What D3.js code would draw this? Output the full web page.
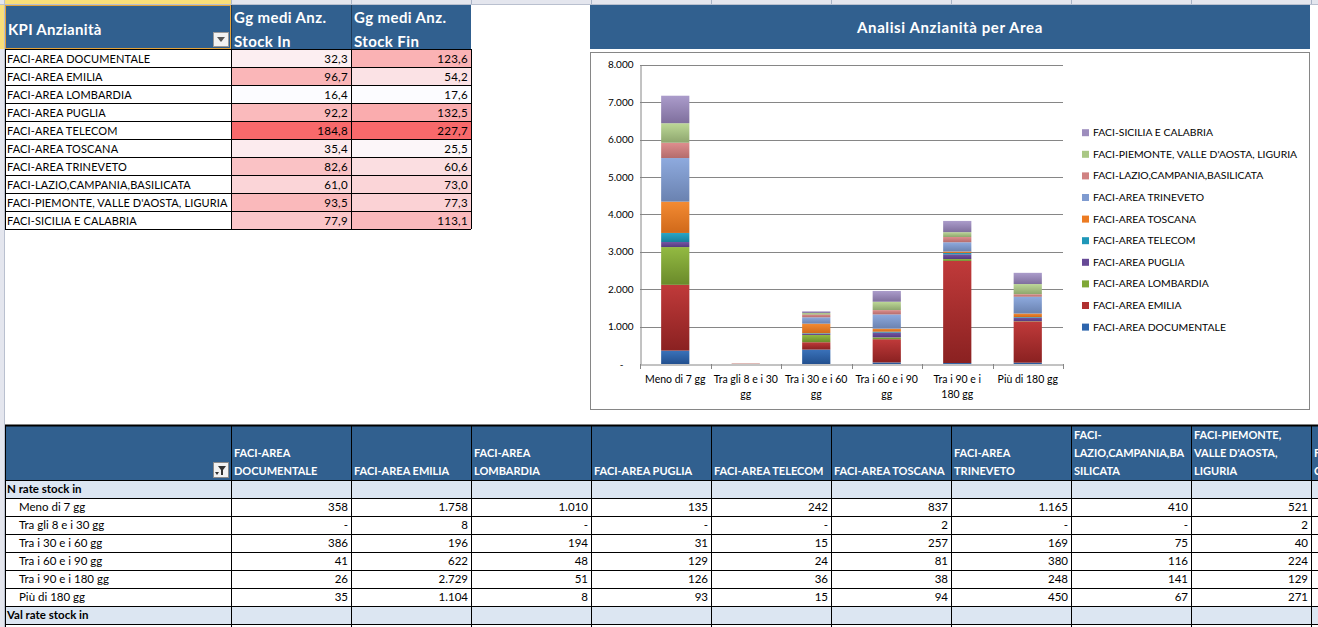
<!DOCTYPE html>
<html><head><meta charset="utf-8">
<script src="https://cdn.jsdelivr.net/npm/d3@7"></script>
<style>
body{margin:0;background:#fff;overflow:hidden}
text{font-family:Lato,"Liberation Sans",sans-serif}
</style>
</head><body>
<svg id="c" width="1318" height="627"></svg>
<script>
// ---------- DATA ----------
const areas = ["FACI-AREA DOCUMENTALE","FACI-AREA EMILIA","FACI-AREA LOMBARDIA","FACI-AREA PUGLIA","FACI-AREA TELECOM","FACI-AREA TOSCANA","FACI-AREA TRINEVETO","FACI-LAZIO,CAMPANIA,BASILICATA","FACI-PIEMONTE, VALLE D'AOSTA, LIGURIA","FACI-SICILIA E CALABRIA"];
const categories = ["Meno di 7 gg","Tra gli 8 e i 30 gg","Tra i 30 e i 60 gg","Tra i 60 e i 90 gg","Tra i 90 e i 180 gg","Più di 180 gg"];
const stockIn  = [32.3,96.7,16.4,92.2,184.8,35.4,82.6,61.0,93.5,77.9];
const stockFin = [123.6,54.2,17.6,132.5,227.7,25.5,60.6,73.0,77.3,113.1];
const sDocumentale = [358,0,386,41,26,35];
const sEmilia      = [1758,8,196,622,2729,1104];
const sLombardia   = [1010,0,194,48,51,8];
const sPuglia      = [135,0,31,129,126,93];
const sTelecom     = [242,0,15,24,36,15];
const sToscana     = [837,2,257,81,38,94];
const sTrineveto   = [1165,0,169,380,248,450];
const sLazio       = [410,0,75,116,141,67];
const sPiemonte    = [521,2,40,224,129,271];
const sSicilia     = [735,3,45,288,300,300]; // estimated from chart (column cut off)
const seriesValues = [sDocumentale,sEmilia,sLombardia,sPuglia,sTelecom,sToscana,sTrineveto,sLazio,sPiemonte,sSicilia];
const yTicks = [0,1000,2000,3000,4000,5000,6000,7000,8000];
const sectionLabels = ["N rate stock in","Val rate stock in"];
const chartTitle = "Analisi Anzianità per Area";
const tableHeader = ["KPI Anzianità","Gg medi Anz. Stock In","Gg medi Anz. Stock Fin"];

// ---------- STYLE ----------
const BLUE = "#31608f";
const seriesColors = [
  ["#3a72ba","#22508f"],["#c03a3a","#8a2121"],["#93ba42","#6a8a2a"],["#7555a3","#553a80"],
  ["#2aa5c6","#17809c"],["#f38b33","#d0691a"],["#8eaade","#6a82b0"],["#de8e8e","#b46c6c"],
  ["#bdd897","#8ea66e"],["#ab9ccb","#7f6f9d"]];
const legendColors = ["#2e65ad","#b03030","#7fa836","#674996","#1f97b8","#ec7b22","#7f9bd0","#d08282","#a9c784","#9d8dbd"];

const it = d3.formatLocale({decimal:",",thousands:".",grouping:[3],currency:["€",""]});
const fmtInt = v => v===0 ? "-" : it.format(",.0f")(v);
const fmt1 = it.format(",.1f");

const svg = d3.select("#c");
const defs = svg.append("defs");

// ---------- Excel chrome ----------
svg.append("rect").attr("x",0).attr("y",0).attr("width",1318).attr("height",5).attr("fill","#e4e6ee");
svg.append("rect").attr("x",5).attr("y",0).attr("width",226).attr("height",5).attr("fill","#f9df7a");
svg.append("rect").attr("x",0).attr("y",0).attr("width",5).attr("height",627).attr("fill","#e4e6ee");
svg.append("rect").attr("x",0).attr("y",5).attr("width",5).attr("height",44).attr("fill","#f9df7a");
const colEdges = d3.range(231,1318,120);
svg.selectAll("line.colsep").data(colEdges).join("line").attr("x1",d=>d+0.5).attr("x2",d=>d+0.5)
  .attr("y1",0).attr("y2",5).attr("stroke","#a9b4c6");
svg.append("line").attr("x1",0).attr("x2",1318).attr("y1",4.5).attr("y2",4.5).attr("stroke","#b9c0cf");
svg.append("line").attr("x1",4.5).attr("x2",4.5).attr("y1",0).attr("y2",627).attr("stroke","#b9c0cf");

// ---------- Top-left table ----------
const tX = [5,231,351,471], rowH = 18, tTop = 49;
svg.append("rect").attr("x",5).attr("y",5).attr("width",466).attr("height",44).attr("fill",BLUE);
svg.append("line").attr("x1",231.5).attr("x2",231.5).attr("y1",5).attr("y2",49).attr("stroke","#1d3a58");
svg.append("line").attr("x1",351.5).attr("x2",351.5).attr("y1",5).attr("y2",49).attr("stroke","#1d3a58");
svg.append("rect").attr("x",5.5).attr("y",5.5).attr("width",225).attr("height",43).attr("fill","none").attr("stroke","#e3a33b");
svg.append("text").attr("x",8).attr("y",35).attr("fill","#fff").attr("font-weight","bold").attr("font-size",15)
  .attr("letter-spacing",0.3).text(tableHeader[0]);
[[tableHeader[1],234],[tableHeader[2],354]].forEach(([t,x])=>{
  const parts = t.split(" ");
  svg.append("text").attr("x",x).attr("y",23).attr("fill","#fff").attr("font-weight","bold").attr("font-size",15).attr("letter-spacing",0.4).text(parts.slice(0,3).join(" "));
  svg.append("text").attr("x",x).attr("y",47).attr("fill","#fff").attr("font-weight","bold").attr("font-size",15).attr("letter-spacing",0.4).text(parts.slice(3).join(" "));
});
// dropdown
svg.append("rect").attr("x",213.5).attr("y",32.5).attr("width",15).attr("height",14).attr("fill","#f2f2f2").attr("stroke","#9a9a9a");
svg.append("path").attr("d","M217,37 L225,37 L221,42 Z").attr("fill","#555");

const cIn = d3.scaleLinear().domain(d3.extent(stockIn)).range(["#fcfcff","#f8696b"]);
const cFin = d3.scaleLinear().domain(d3.extent(stockFin)).range(["#fcfcff","#f8696b"]);
const trows = svg.append("g").selectAll("g").data(areas).join("g")
  .attr("transform",(d,i)=>`translate(0,${tTop+i*rowH})`);
trows.append("rect").attr("x",231).attr("width",120).attr("height",rowH).attr("fill",(d,i)=>cIn(stockIn[i]));
trows.append("rect").attr("x",351).attr("width",120).attr("height",rowH).attr("fill",(d,i)=>cFin(stockFin[i]));
trows.append("text").attr("x",7).attr("y",13.5).attr("font-size",11).attr("letter-spacing",0.12).text(d=>d);
trows.append("text").attr("x",348).attr("y",13.5).attr("font-size",11.5).attr("letter-spacing",0.3).attr("text-anchor","end").text((d,i)=>fmt1(stockIn[i]));
trows.append("text").attr("x",468).attr("y",13.5).attr("font-size",11.5).attr("letter-spacing",0.3).attr("text-anchor","end").text((d,i)=>fmt1(stockFin[i]));
d3.range(areas.length+1).forEach(i=>{
  svg.append("line").attr("x1",5).attr("x2",471).attr("y1",tTop+i*rowH+0.5).attr("y2",tTop+i*rowH+0.5).attr("stroke","#000");
});
tX.forEach(x=>svg.append("line").attr("x1",x+0.5).attr("x2",x+0.5).attr("y1",tTop).attr("y2",tTop+areas.length*rowH).attr("stroke","#000"));

// ---------- Chart ----------
svg.append("rect").attr("x",590).attr("y",5).attr("width",720).attr("height",44).attr("fill",BLUE);
svg.append("text").attr("x",950).attr("y",33).attr("text-anchor","middle").attr("fill","#fff")
  .attr("font-weight","bold").attr("font-size",15).attr("letter-spacing",0.6).text(chartTitle);
svg.append("rect").attr("x",590.5).attr("y",52.5).attr("width",719).attr("height",357).attr("fill","#fff").attr("stroke","#868686");

const x = d3.scaleBand().domain(categories).range([640,1063]).paddingInner(0.6).paddingOuter(0.3);
const y = d3.scaleLinear().domain([0,8000]).range([364,64.7]);
const gGrid = svg.append("g");
gGrid.selectAll("line").data(yTicks.slice(1)).join("line")
  .attr("x1",640).attr("x2",1063).attr("y1",d=>Math.round(y(d))+0.5).attr("y2",d=>Math.round(y(d))+0.5).attr("stroke","#868686");

seriesColors.forEach((c,i)=>{
  const g = defs.append("linearGradient").attr("id","g"+i).attr("x1",0).attr("x2",0).attr("y1",0).attr("y2",1);
  g.append("stop").attr("offset","0%").attr("stop-color",c[0]);
  g.append("stop").attr("offset","100%").attr("stop-color",c[1]);
});
const stackData = categories.map((c,ci)=>{const o={cat:c}; areas.forEach((a,ai)=>o[a]=seriesValues[ai][ci]); return o;});
const stacked = d3.stack().keys(areas)(stackData);
svg.append("g").selectAll("g").data(stacked).join("g").attr("fill",(d,i)=>`url(#g${i})`)
  .selectAll("rect").data(d=>d).join("rect")
  .attr("x",d=>x(d.data.cat)).attr("width",x.bandwidth())
  .attr("y",d=>y(d[1])).attr("height",d=>Math.max(0,y(d[0])-y(d[1])));

// axes
const yAxis = d3.axisLeft(y).tickValues(yTicks).tickSize(0).tickPadding(7).tickFormat(fmtInt);
const gy = svg.append("g").attr("transform","translate(640.5,0)").call(yAxis);
gy.select(".domain").attr("stroke","#868686");
gy.selectAll("text").attr("font-size",10).attr("font-family","Lato").attr("fill","#000");
gy.selectAll(".tick").filter(d=>d===0).select("text").attr("dx",-10);

const xAxis = d3.axisBottom(x).tickSize(0).tickFormat("");
const gx = svg.append("g").attr("transform","translate(0,364.5)").call(xAxis);
gx.select(".domain").attr("stroke","#868686");
const bounds = d3.range(categories.length+1).map(i=>640+i*(423/categories.length));
svg.append("g").selectAll("line").data(bounds).join("line")
  .attr("x1",d=>Math.round(d)+0.5).attr("x2",d=>Math.round(d)+0.5).attr("y1",364).attr("y2",369).attr("stroke","#868686");

function wrapLines(txt, maxW, measure){
  const words = txt.split(" "); const lines=[]; let cur="";
  words.forEach(w=>{
    const t = cur? cur+" "+w : w;
    if(measure(t)<=maxW || !cur){cur=t;} else {lines.push(cur);cur=w;}
  });
  if(cur) lines.push(cur);
  return lines;
}
const meas = svg.append("text").attr("font-size",10.5).attr("x",-999).attr("y",-999);
const m105 = s=>{meas.text(s);return meas.node().getComputedTextLength();};
categories.forEach(c=>{
  const lines = wrapLines(c, 68, m105);
  const t = svg.append("text").attr("x",x(c)+x.bandwidth()/2).attr("y",383).attr("text-anchor","middle").attr("font-size",10.5);
  lines.forEach((l,i)=>t.append("tspan").attr("x",x(c)+x.bandwidth()/2).attr("dy",i?15:0).text(l));
});

// legend (reversed order)
const legOrder = d3.range(areas.length).reverse();
const leg = svg.append("g").selectAll("g").data(legOrder).join("g")
  .attr("transform",(d,i)=>`translate(1082,${132.7+i*21.6})`);
leg.append("rect").attr("x",0).attr("y",-3.5).attr("width",7).attr("height",7).attr("fill",d=>legendColors[d]);
leg.append("text").attr("x",11).attr("y",3.5).attr("font-size",10.4).text(d=>areas[d]);

// ---------- Bottom table ----------
const bTop = 425, bHead = 55, bX0 = 5, bX1 = 231, colW = 120;
svg.append("rect").attr("x",5).attr("y",bTop).attr("width",1313).attr("height",bHead).attr("fill",BLUE);
svg.append("line").attr("x1",5).attr("x2",1318).attr("y1",bTop+0.5).attr("y2",bTop+0.5).attr("stroke","#000").attr("stroke-width",2);
const mb = svg.append("text").attr("font-size",11).attr("font-weight","bold").attr("x",-999).attr("y",-999);
const mB = s=>{mb.text(s);return mb.node().getComputedTextLength();};
function wrapHeader(txt,maxW){
  const tokens = txt.match(/[^ \-]+-?|\s+/g);
  const lines=[]; let cur="";
  tokens.forEach(tok=>{
    if(/^\s+$/.test(tok)){ cur+=" "; return; }
    if(mB((cur+tok).trim())<=maxW){ cur+=tok; return; }
    if(cur.trim()) { lines.push(cur.trim()); cur=""; }
    let w=tok;
    while(mB(w)>maxW){
      let k=w.length; while(k>1 && mB(w.slice(0,k))>maxW) k--;
      lines.push(w.slice(0,k)); w=w.slice(k);
    }
    cur=w;
  });
  if(cur.trim()) lines.push(cur.trim());
  return lines;
}
areas.forEach((a,i)=>{
  const cx = bX1+i*colW;
  const lines = wrapHeader(a, colW-6);
  lines.forEach((l,j)=>{
    svg.append("text").attr("x",cx+3).attr("y",bTop+bHead-5-(lines.length-1-j)*18).attr("fill","#fff")
      .attr("font-weight","bold").attr("font-size",11).text(l);
  });
});
// filter icon
svg.append("rect").attr("x",213.5).attr("y",462.5).attr("width",15).attr("height",15).attr("fill","#f2f2f2").attr("stroke","#8a8a8a");
svg.append("path").attr("d","M218,466 L226,466 L223,470 L223,475 L221,475 L221,470 Z").attr("fill","#333");
svg.append("path").attr("d","M215,472 L219,472 L217,475 Z").attr("fill","#333");

const rowsStart = bTop+bHead;
const bodyRows = [{label:sectionLabels[0],sec:true}]
  .concat(categories.map((c,ci)=>({label:c,ci})))
  .concat([{label:sectionLabels[1],sec:true},{label:"",blank:true}]);
bodyRows.forEach((r,ri)=>{
  const yy = rowsStart+ri*rowH;
  if(r.sec) svg.append("rect").attr("x",5).attr("y",yy).attr("width",1313).attr("height",rowH).attr("fill","#dce6f2");
  svg.append("text").attr("x",r.sec?7:19).attr("y",yy+13).attr("font-size",11.5)
    .attr("font-weight",r.sec?"bold":"normal").text(r.label);
  if(r.ci!==undefined){
    areas.forEach((a,ai)=>{
      svg.append("text").attr("x",bX1+(ai+1)*colW-3).attr("y",yy+13).attr("font-size",11.5).attr("text-anchor","end")
        .text(fmtInt(seriesValues[ai][r.ci]));
    });
  }
  svg.append("line").attr("x1",5).attr("x2",1318).attr("y1",yy+0.5).attr("y2",yy+0.5).attr("stroke","#000");
});
const bEdges = [bX0].concat(d3.range(areas.length+1).map(i=>bX1+i*colW));
bEdges.forEach(e=>svg.append("line").attr("x1",e+0.5).attr("x2",e+0.5).attr("y1",bTop).attr("y2",627).attr("stroke","#000"));
meas.remove(); mb.remove();
</script>
</body></html>
